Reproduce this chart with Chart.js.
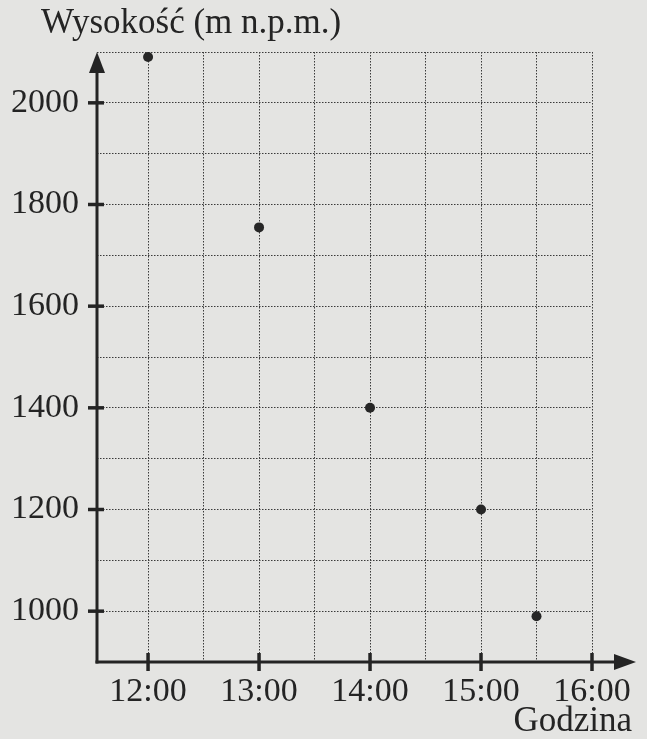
<!DOCTYPE html>
<html>
<head>
<meta charset="utf-8">
<script src="https://cdn.jsdelivr.net/npm/chart.js@4/dist/chart.umd.min.js"></script>
<style>
  html, body { margin: 0; padding: 0; background: #e4e4e2; }
  #wrap { width: 647px; height: 739px; position: relative; }
</style>
</head>
<body>
<div id="wrap"><canvas id="c" width="647" height="739"></canvas></div>
<script>
// ---- data ----
const hours = [12, 13, 14, 15, 15.5];            // godzina
const heights = [2090, 1755, 1400, 1200, 990];   // wysokość (m n.p.m.)
const yLabelValues = [1000, 1200, 1400, 1600, 1800, 2000];
const xLabelHours = [12, 13, 14, 15, 16];
const yTitle = 'Wysokość (m n.p.m.)';
const xTitle = 'Godzina';

const FONT = "'Liberation Serif', 'DejaVu Serif', serif";
const INK = '#242424';

const bgPlugin = {
  id: 'bg',
  beforeDraw(chart) {
    const ctx = chart.ctx;
    ctx.save();
    ctx.fillStyle = '#e4e4e2';
    ctx.fillRect(0, 0, chart.width, chart.height);
    ctx.restore();
  }
};

const axesPlugin = {
  id: 'axesArrows',
  afterDatasetsDraw(chart) {
    const ctx = chart.ctx;
    const a = chart.chartArea;
    const xs = chart.scales.x, ys = chart.scales.y;
    ctx.save();
    ctx.strokeStyle = INK;
    ctx.fillStyle = INK;
    ctx.lineWidth = 3;
    ctx.lineCap = 'butt';
    // y axis
    ctx.beginPath();
    ctx.moveTo(a.left, a.bottom + 1.5);
    ctx.lineTo(a.left, a.top + 16);
    ctx.stroke();
    ctx.beginPath();
    ctx.moveTo(a.left, a.top);
    ctx.lineTo(a.left - 8, a.top + 21);
    ctx.lineTo(a.left + 8, a.top + 21);
    ctx.closePath();
    ctx.fill();
    // x axis
    ctx.beginPath();
    ctx.moveTo(a.left - 1.5, a.bottom);
    ctx.lineTo(a.right + 26, a.bottom);
    ctx.stroke();
    ctx.beginPath();
    ctx.moveTo(a.right + 44, a.bottom);
    ctx.lineTo(a.right + 22, a.bottom - 8);
    ctx.lineTo(a.right + 22, a.bottom + 8);
    ctx.closePath();
    ctx.fill();
    // tick marks
    ctx.lineWidth = 3.5;
    yLabelValues.forEach(v => {
      const y = ys.getPixelForValue(v);
      ctx.beginPath();
      ctx.moveTo(a.left - 9, y);
      ctx.lineTo(a.left + 7, y);
      ctx.stroke();
    });
    xLabelHours.forEach(h => {
      const x = xs.getPixelForValue(h);
      ctx.beginPath();
      ctx.moveTo(x, a.bottom - 9);
      ctx.lineTo(x, a.bottom + 9);
      ctx.stroke();
    });
    // titles
    ctx.font = '35px ' + FONT;
    ctx.textBaseline = 'alphabetic';
    ctx.textAlign = 'left';
    ctx.fillText(yTitle, 41, 33);
    ctx.textAlign = 'right';
    ctx.fillText(xTitle, 632, 731);
    ctx.restore();
  }
};

new Chart(document.getElementById('c'), {
  type: 'scatter',
  data: {
    datasets: [{
      data: hours.map((h, i) => ({ x: h, y: heights[i] })),
      pointRadius: 5,
      pointHoverRadius: 5,
      pointBackgroundColor: '#262626',
      pointBorderColor: '#262626',
      pointBorderWidth: 0,
      showLine: false
    }]
  },
  plugins: [bgPlugin, axesPlugin],
  options: {
    responsive: false,
    animation: false,
    devicePixelRatio: 1,
    layout: { padding: { top: 52, right: 55, left: 0, bottom: 0 } },
    plugins: { legend: { display: false }, tooltip: { enabled: false }, title: { display: false } },
    scales: {
      x: {
        type: 'linear',
        min: 11.54,
        max: 16,
        afterFit(s) { s.height = 77; },
        afterBuildTicks(s) {
          const t = [];
          for (let v = 12; v <= 16.001; v += 0.5) t.push({ value: v });
          s.ticks = t;
        },
        ticks: {
          autoSkip: false,
          maxRotation: 0,
          padding: 10,
          color: INK,
          font: { family: FONT, size: 34 },
          callback: (v) => (xLabelHours.includes(v) ? v + ':00' : '')
        },
        grid: { color: '#3a3a3a', lineWidth: 1, drawTicks: false },
        border: { display: false, dash: [1.5, 1.5] }
      },
      y: {
        type: 'linear',
        min: 900,
        max: 2100,
        afterFit(s) { s.width = 97; },
        afterBuildTicks(s) {
          const t = [];
          for (let v = 900; v <= 2100; v += 100) t.push({ value: v });
          s.ticks = t;
        },
        ticks: {
          autoSkip: false,
          padding: 18,
          color: INK,
          font: { family: FONT, size: 34 },
          callback: (v) => (yLabelValues.includes(v) ? String(v) : '')
        },
        grid: { color: '#3a3a3a', lineWidth: 1, drawTicks: false },
        border: { display: false, dash: [1.5, 1.5] }
      }
    }
  }
});
</script>
</body>
</html>
